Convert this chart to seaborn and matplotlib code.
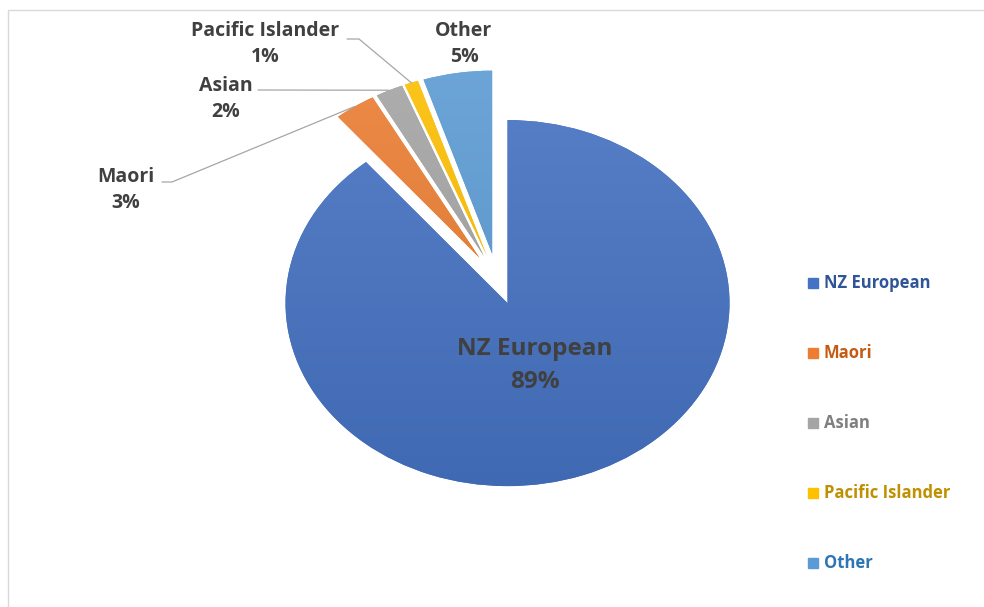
import matplotlib
matplotlib.use("Agg")
import numpy as np
import matplotlib.pyplot as plt
import seaborn as sns
from matplotlib.lines import Line2D
from matplotlib.patches import Rectangle
from matplotlib.colors import to_rgb

# data
groups = ["NZ European", "Maori", "Asian", "Pacific Islander", "Other"]
shares = [89, 3, 2, 1, 5]

colours = ["#4472C4", "#ED7D31", "#A5A5A5", "#FFC000", "#5B9BD5"]
legend_colours = ["#2F5597", "#C55A11", "#7F7F7F", "#BF9000", "#2E75B6"]
explode = [0.14] * len(shares)

sns.set_theme(style="white")
plt.rcParams['font.family'] = ['Open Sans', 'DejaVu Sans']

W, H = 984, 607
fig = plt.figure(figsize=(W / 100, H / 100), dpi=100)
fig.patches.append(Rectangle((8 / W, -0.1), 1.1, (H - 10) / H + 0.1,
                             transform=fig.transFigure, fill=False,
                             edgecolor="#D9D9D9", lw=1))

# pie is drawn as an ellipse, like the original
cx, cy, rx, ry = 497, 279, 222, 183
lim = 1.4
ax = fig.add_axes([(cx - lim * rx) / W, (H - cy - lim * ry) / H,
                   2 * lim * rx / W, 2 * lim * ry / H])
wedges, _ = ax.pie(shares, colors=colours, startangle=90, counterclock=False,
                   explode=explode, wedgeprops=dict(linewidth=0))
ax.set_aspect("auto")

# soft vertical shading on each slice
for w, c in zip(wedges, colours):
    base = np.array(to_rgb(c))
    top = base + (1 - base) * 0.12
    bot = base * 0.9
    t = np.linspace(0, 1, 256)[:, None]
    grad = (top[None, :] * (1 - t) + bot[None, :] * t)[:, None, :]
    im = ax.imshow(np.repeat(grad, 2, axis=1), extent=(-lim, lim, -lim, lim),
                   aspect="auto", origin="upper", zorder=w.get_zorder() + 0.1)
    im.set_clip_path(w)

ax.set_xlim(-lim, lim)
ax.set_ylim(-lim, lim)
ax.axis("off")

# overlay in pixel units for labels
lay = fig.add_axes([0, 0, 1, 1])
lay.set_xlim(0, W)
lay.set_ylim(H, 0)
lay.axis("off")
lay.patch.set_visible(False)


def wedge_point(w, frac):
    t = np.deg2rad((w.theta1 + w.theta2) / 2)
    p = (w.center[0] + frac * w.r * np.cos(t), w.center[1] + frac * w.r * np.sin(t))
    return lay.transData.inverted().transform(ax.transData.transform(p))


pct = ["%d%%" % s for s in shares]

# inside label
px, py = wedge_point(wedges[0], 0.36)
lay.text(px, py, groups[0] + "\n" + pct[0], ha="center", va="center",
         fontsize=17.5, fontweight="bold", color="#404040", linespacing=1.5)

label_pos = {"Maori": (126, 190), "Asian": (226, 99),
             "Pacific Islander": (265, 44), "Other": (464, 44)}
leaders = {"Maori": [(162, 182), (172, 182)],
           "Asian": [(258, 90)],
           "Pacific Islander": [(347, 39), (359, 39)]}

for i, g in enumerate(groups[1:], start=1):
    x, y = label_pos[g]
    lay.text(x, y, g + "\n" + pct[i], ha="center", va="center",
             fontsize=14, fontweight="bold", color="#404040", linespacing=1.42)
    if g in leaders:
        pts = leaders[g] + [tuple(wedge_point(wedges[i], 1.0))]
        xs, ys = zip(*pts)
        lay.plot(xs, ys, color="#A6A6A6", lw=0.9)

handles = [Line2D([], [], marker="s", ls="", color=c, markersize=6.5) for c in colours]
leg = fig.legend(handles, groups, loc="center left",
                 bbox_to_anchor=(808 / W, (H - 423.5) / H), frameon=False,
                 labelspacing=3.12, handlelength=0.6, handletextpad=0.35,
                 borderaxespad=0, borderpad=0,
                 prop=dict(size=12, weight="bold"))
for t, c in zip(leg.get_texts(), legend_colours):
    t.set_color(c)

fig.savefig("out.png", dpi=100)
